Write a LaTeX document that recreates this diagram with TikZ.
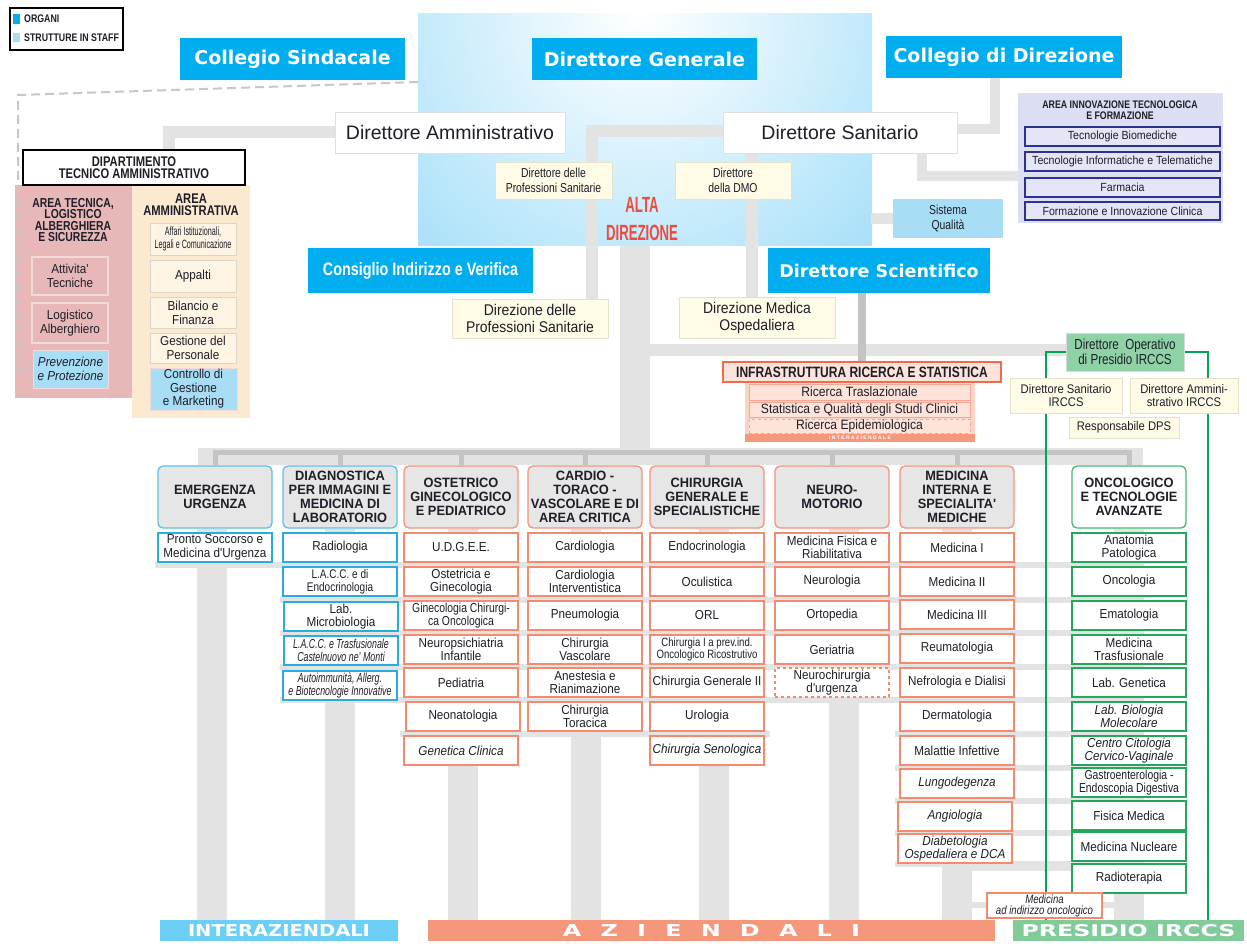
\documentclass[tikz,border=0pt]{standalone}
\usepackage{fontspec}
\usepackage{graphicx}
\setmainfont{Liberation Sans}
\newfontfamily\dv{DejaVu Sans}
\newfontfamily\cne{Liberation Sans}[FakeStretch=0.95]
\newfontfamily\cna{Liberation Sans}[FakeStretch=0.9]
\newfontfamily\cnb{Liberation Sans}[FakeStretch=0.8]
\newfontfamily\cnc{Liberation Sans}[FakeStretch=0.68]
\newfontfamily\cnd{Liberation Sans}[FakeStretch=0.6]
\definecolor{organ}{HTML}{00AEEF}
\definecolor{staff}{HTML}{A7DEF6}
\definecolor{cream}{HTML}{FFFBE6}
\definecolor{creamline}{HTML}{E6E2C8}
\definecolor{conn}{HTML}{E3E3E3}
\definecolor{connd}{HTML}{C4C4C4}
\definecolor{hdr}{HTML}{E6E6E6}
\definecolor{hbl}{HTML}{5BC0EB}
\definecolor{hsal}{HTML}{F4937A}
\definecolor{hgrn}{HTML}{45B86E}
\definecolor{ibl}{HTML}{2AACE2}
\definecolor{isal}{HTML}{F58A6E}
\definecolor{igrn}{HTML}{22A85A}
\definecolor{txt}{HTML}{1E1E28}
\definecolor{pinkp}{HTML}{E8B8B9}
\definecolor{pinkl}{HTML}{F3DADA}
\definecolor{creamp}{HTML}{FCEAD0}
\definecolor{creami}{HTML}{FEF4E4}
\definecolor{creaml}{HTML}{DDD5C8}
\definecolor{lav}{HTML}{DCDFF3}
\definecolor{lavi}{HTML}{E4E6F7}
\definecolor{navy}{HTML}{2E3192}
\definecolor{altared}{HTML}{EE4B3E}
\definecolor{opgreen}{HTML}{8FD2A6}
\definecolor{barblue}{HTML}{6DCFF6}
\definecolor{barsal}{HTML}{F5977B}
\definecolor{bargrn}{HTML}{80CB99}
\definecolor{infr}{HTML}{EE6B4F}
\definecolor{infrf}{HTML}{FDE3D9}
\definecolor{infrp}{HTML}{FBD3C4}
\definecolor{gradb}{HTML}{5FC6F4}
\definecolor{ggreen}{HTML}{00A651}
\pgfdeclarelayer{bg}
\pgfdeclarelayer{conn}
\pgfsetlayers{bg,conn,main}
\newcommand\bx[7]{\node[#1,minimum width={(#5)-(#3)},minimum height={(#6)-(#4)}] (#2) at ({((#3)+(#5))/2},{((#4)+(#6))/2}) {#7};}
\newcommand\ci[5]{\bx{#1}{#2}{#3}{#4}{#3+114}{#4+29}{#5}}
\tikzset{
 b/.style={inner sep=0pt, align=center, text=txt},
 organ/.style={b, fill=organ, text=white, font=\dv\bfseries\fontsize{19}{22}\selectfont},
 organn/.style={b, fill=organ, text=white, font=\cnb\bfseries\fontsize{18}{20}\selectfont},
 dirbox/.style={b, fill=white, draw=black!12, line width=0.8, font=\fontsize{19.5}{21}\selectfont},
 creambox/.style={b, fill=cream, draw=creamline, line width=0.8},
 hd/.style={b, rounded corners=5pt, fill=hdr, line width=1.3, font=\cne\bfseries\fontsize{13.5}{14}\selectfont},
 hdb/.style={hd, draw=hbl}, hds/.style={hd, draw=hsal}, hdg/.style={hd, draw=hgrn, fill=white},
 it/.style={b, fill=white, line width=1.2, font=\cna\fontsize{13}{13.5}\selectfont},
 itl/.style={font=\cna\itshape\fontsize{13}{13.5}\selectfont},
 itb/.style={it, draw=ibl}, its/.style={it, draw=isal}, itg/.style={it, draw=igrn},
 innit/.style={b, fill=lavi, draw=navy, line width=1.2, font=\cna\fontsize{11.8}{12}\selectfont},
 pinkit/.style={b, fill=pinkp, draw=pinkl, line width=1.2, font=\cna\fontsize{13}{14}\selectfont},
 creamit/.style={b, fill=creami, draw=creaml, line width=1, font=\cna\fontsize{13}{14}\selectfont},
 staffit/.style={b, fill=staff, draw=pinkl, line width=1, font=\cna\fontsize{13}{13.5}\selectfont},
 infit/.style={b, fill=infrf, draw=infr!60, line width=1, font=\cna\fontsize{13.5}{13.5}\selectfont},
 ttl/.style={b, font=\cnb\bfseries\fontsize{13}{11.5}\selectfont},
 cline/.style={draw=conn, line width=12},
 band/.style={draw=conn, line width=6},
 dline/.style={draw=connd, line width=5},
 gline/.style={draw=ggreen, line width=2.6},
 dashline/.style={draw=black!22, line width=2, dash pattern=on 9pt off 5pt},
 barbox/.style={b, text=white},
}
\begin{document}
\begin{tikzpicture}[x=1pt,y=-1pt]
\useasboundingbox (0,0) rectangle (1247,944);
\begin{pgfonlayer}{bg}
\fill[white] (0,0) rectangle (1247,944);
\begin{scope}
\clip (418,14) rectangle (872,245);
\fill[gradb] (418,14) rectangle (872,245);
\shade[inner color=white, outer color=gradb] (640,15) circle (600);
\end{scope}
\bx{fill=pinkp}{pan1}{15}{185}{132}{398}{}
\bx{fill=creamp}{pan2}{132}{185}{250}{418}{}
\bx{fill=lav}{inn}{1018}{93}{1223}{223}{}
\bx{fill=infrp}{infp}{745}{382}{975}{442}{}
\end{pgfonlayer}

% legend
\bx{draw=black, line width=1.6, fill=white}{legend}{10}{8}{123}{50}{}
\bx{fill=organ}{lgo}{13}{14}{20}{24}{}
\bx{fill=staff}{lgs}{13}{33}{20}{42}{}
\node[b, anchor=west, font=\cnb\bfseries\fontsize{11}{11}\selectfont] (lgot) at (24,19) {ORGANI};
\node[b, anchor=west, font=\cnb\bfseries\fontsize{11}{11}\selectfont] (lgst) at (24,38) {STRUTTURE IN STAFF};

% organs
\bx{organ}{cs}{180}{38}{405}{80}{Collegio Sindacale}
\bx{organ}{dg}{532}{38}{757}{80}{Direttore Generale}
\bx{organ}{cdd}{886}{36}{1122}{78}{Collegio di Direzione}
\bx{organn}{civ}{308}{248}{533}{293}{Consiglio Indirizzo e Verifica}
\bx{organ, font=\dv\bfseries\fontsize{17.5}{20}\selectfont}{dsci}{768}{248}{990}{293}{Direttore Scientifico}

\bx{dirbox}{damm}{335}{112}{565}{153}{Direttore Amministrativo}
\bx{dirbox}{dsan}{723}{112}{957}{153}{Direttore Sanitario}

\bx{creambox, font=\cnb\fontsize{13}{14.5}\selectfont}{dps}{495}{162}{612}{199}{Direttore delle\\Professioni Sanitarie}
\bx{creambox, font=\cnb\fontsize{13}{14.5}\selectfont}{ddmo}{675}{162}{791}{199}{Direttore\\della DMO}
\bx{creambox, font=\cna\fontsize{15.5}{17}\selectfont}{dirps}{452}{299}{608}{338}{Direzione delle\\Professioni Sanitarie}
\bx{creambox, font=\cna\fontsize{15.5}{17}\selectfont}{dmo}{679}{297}{835}{338}{Direzione Medica\\Ospedaliera}
\node[b, font=\cnd\bfseries\fontsize{22}{28}\selectfont, text=altared] (alta) at (642,219) {ALTA\\DIREZIONE};
\bx{b, fill=staff, font=\cnb\fontsize{13}{15}\selectfont}{sq}{893}{199}{1003}{238}{Sistema\\Qualità}

% innovazione
\node[b, font=\cnb\bfseries\fontsize{11}{10.5}\selectfont] (innt) at (1120,110) {AREA INNOVAZIONE TECNOLOGICA\\E FORMAZIONE};
\bx{innit}{tb}{1025}{127}{1220}{146}{Tecnologie Biomediche}
\bx{innit}{ti}{1025}{152}{1220}{171}{Tecnologie Informatiche e Telematiche}
\bx{innit}{fa}{1025}{178}{1220}{197}{Farmacia}
\bx{innit}{fi}{1025}{202}{1220}{220}{Formazione e Innovazione Clinica}

% dipartimento
\bx{b, draw=black, line width=1.4, fill=white, font=\cnb\bfseries\fontsize{14}{12}\selectfont}{dip}{23}{150}{245}{185}{DIPARTIMENTO\\TECNICO AMMINISTRATIVO}
\node[ttl] (tect) at (73,220) {AREA TECNICA,\\LOGISTICO\\ALBERGHIERA\\E SICUREZZA};
\node[ttl, font=\cnb\bfseries\fontsize{14}{12.5}\selectfont] (ammt) at (191,205) {AREA\\AMMINISTRATIVA};
\bx{pinkit}{atec}{32}{257}{108}{295}{Attivita'\\Tecniche}
\bx{pinkit}{lalb}{32}{303}{108}{343}{Logistico\\Alberghiero}
\bx{staffit, font=\cna\itshape\fontsize{13}{14}\selectfont}{prev}{33}{350}{108}{388}{Prevenzione\\e Protezione}
\bx{creamit, font=\cnd\fontsize{12}{13}\selectfont}{aff}{150}{223}{236}{255}{Affari Istituzionali,\\Legali e Comunicazione}
\bx{creamit}{app}{150}{260}{236}{292}{Appalti}
\bx{creamit}{bil}{150}{297}{236}{328}{Bilancio e\\Finanza}
\bx{creamit}{gest}{150}{333}{236}{363}{Gestione del\\Personale}
\bx{staffit}{ctrl}{150}{368}{237}{410}{Controllo di\\Gestione\\e Marketing}

% infrastruttura
\bx{b, fill=infrf, draw=infr, line width=1.5, font=\cnb\bfseries\fontsize{15}{15}\selectfont}{infr}{723}{362}{1001}{382}{INFRASTRUTTURA RICERCA E STATISTICA}
\bx{infit}{rtr}{749}{384}{970}{400}{Ricerca Traslazionale}
\bx{infit}{stq}{749}{402}{970}{417}{Statistica e Qualità degli Studi Clinici}
\bx{infit, dashed}{rep}{749}{419}{970}{433}{Ricerca Epidemiologica}
\bx{b, fill=barsal, text=white, font=\bfseries\fontsize{5}{5}\selectfont}{infz}{745}{434}{975}{442}{I N T E R A Z I E N D A L E}

% presidio
\bx{b, fill=opgreen, draw=black!15, line width=0.8, font=\cnb\fontsize{14.5}{15.5}\selectfont}{dop}{1066}{333}{1184}{371}{Direttore\ \ Operativo\\di Presidio IRCCS}
\bx{creambox, font=\cna\fontsize{12.5}{13.5}\selectfont}{dsi}{1010}{378}{1122}{413}{Direttore Sanitario\\IRCCS}
\bx{creambox, font=\cna\fontsize{12.5}{13.5}\selectfont}{dai}{1130}{378}{1238}{413}{Direttore Ammini-\\strativo IRCCS}
\bx{creambox, font=\cna\fontsize{12.5}{13.5}\selectfont}{rdps}{1069}{417}{1179}{438}{Responsabile DPS}

% headers
\bx{hdb}{h1}{158}{466}{272}{528}{EMERGENZA\\URGENZA}
\bx{hdb}{h2}{283}{466}{397}{528}{DIAGNOSTICA\\PER IMMAGINI E\\MEDICINA DI\\LABORATORIO}
\bx{hds}{h3}{404}{466}{518}{528}{OSTETRICO\\GINECOLOGICO\\E PEDIATRICO}
\bx{hds}{h4}{528}{466}{642}{528}{CARDIO -\\TORACO -\\VASCOLARE E DI\\AREA CRITICA}
\bx{hds}{h5}{650}{466}{764}{528}{CHIRURGIA\\GENERALE E\\SPECIALISTICHE}
\bx{hds}{h6}{775}{466}{889}{528}{NEURO-\\MOTORIO}
\bx{hds}{h7}{900}{466}{1014}{528}{MEDICINA\\INTERNA E\\SPECIALITA'\\MEDICHE}
\bx{hdg}{h8}{1072}{466}{1186}{528}{ONCOLOGICO\\E TECNOLOGIE\\AVANZATE}

% column 1
\ci{itb}{a1}{158}{533}{Pronto Soccorso e\\Medicina d'Urgenza}
% column 2
\ci{itb}{b1}{283}{533}{Radiologia}
\ci{itb, font=\cnb\fontsize{12.5}{13}\selectfont}{b2}{283}{567}{L.A.C.C. e di\\Endocrinologia}
\ci{itb}{b3}{284}{602}{Lab.\\Microbiologia}
\ci{itb, font=\cnc\itshape\fontsize{13}{13}\selectfont}{b4}{284}{636}{L.A.C.C. e Trasfusionale\\Castelnuovo ne’ Monti}
\ci{itb, font=\cnc\itshape\fontsize{13}{12.5}\selectfont}{b5}{283}{671}{Autoimmunità, Allerg.\\e Biotecnologie Innovative}
% column 3
\ci{its}{c1}{404}{533}{U.D.G.E.E.}
\ci{its}{c2}{404}{567}{Ostetricia e\\Ginecologia}
\ci{its, font=\cnb\fontsize{13}{13.5}\selectfont}{c3}{404}{601}{Ginecologia Chirurgi-\\ca Oncologica}
\ci{its}{c4}{404}{635}{Neuropsichiatria\\Infantile}
\ci{its}{c5}{404}{668}{Pediatria}
\ci{its}{c6}{406}{702}{Neonatologia}
\ci{its, itl}{c7}{404}{736}{Genetica Clinica}
% column 4
\ci{its}{d1}{528}{533}{Cardiologia}
\ci{its}{d2}{528}{567}{Cardiologia\\Interventistica}
\ci{its}{d3}{528}{601}{Pneumologia}
\ci{its}{d4}{528}{635}{Chirurgia\\Vascolare}
\ci{its}{d5}{528}{668}{Anestesia e\\Rianimazione}
\ci{its}{d6}{528}{702}{Chirurgia\\Toracica}
% column 5
\ci{its}{e1}{650}{533}{Endocrinologia}
\ci{its}{e2}{650}{567}{Oculistica}
\ci{its}{e3}{650}{601}{ORL}
\ci{its, font=\cnb\fontsize{12}{12.5}\selectfont}{e4}{650}{635}{Chirurgia I a prev.ind.\\Oncologico Ricostrutivo}
\ci{its}{e5}{650}{668}{Chirurgia Generale II}
\ci{its}{e6}{650}{702}{Urologia}
\ci{its, itl}{e7}{650}{736}{Chirurgia Senologica}
% column 6
\ci{its}{f1}{775}{533}{Medicina Fisica e\\Riabilitativa}
\ci{its}{f2}{775}{567}{Neurologia}
\ci{its}{f3}{775}{601}{Ortopedia}
\ci{its}{f4}{775}{635}{Geriatria}
\ci{its, dashed, line width=1.6}{f5}{775}{668}{Neurochirurgia\\d'urgenza}
% column 7
\ci{its}{g1}{900}{533}{Medicina I}
\ci{its}{g2}{900}{567}{Medicina II}
\ci{its}{g3}{900}{600}{Medicina III}
\ci{its}{g4}{900}{634}{Reumatologia}
\ci{its}{g5}{900}{668}{Nefrologia e Dialisi}
\ci{its}{g6}{900}{702}{Dermatologia}
\ci{its}{g7}{900}{736}{Malattie Infettive}
\ci{its, itl}{g8}{900}{769}{Lungodegenza}
\ci{its, itl}{g9}{898}{802}{Angiologia}
\ci{its, itl}{g10}{898}{834}{Diabetologia\\Ospedaliera e DCA}
% column 8
\ci{itg}{k1}{1072}{533}{Anatomia\\Patologica}
\ci{itg}{k2}{1072}{567}{Oncologia}
\ci{itg}{k3}{1072}{601}{Ematologia}
\ci{itg}{k4}{1072}{635}{Medicina\\Trasfusionale}
\ci{itg}{k5}{1072}{668}{Lab. Genetica}
\ci{itg, itl}{k6}{1072}{702}{Lab. Biologia\\Molecolare}
\ci{itg, itl}{k7}{1072}{736}{Centro Citologia\\Cervico-Vaginale}
\ci{itg, font=\cnb\fontsize{13}{13.5}\selectfont}{k8}{1072}{768}{Gastroenterologia -\\Endoscopia Digestiva}
\ci{itg}{k9}{1072}{801}{Fisica Medica}
\ci{itg}{k10}{1072}{832}{Medicina Nucleare}
\ci{itg}{k11}{1072}{864}{Radioterapia}
\bx{its, font=\cnb\itshape\fontsize{12}{11}\selectfont}{mio}{987}{893}{1102}{918}{Medicina\\ad indirizzo oncologico}

% bottom bars
\bx{barbox, fill=barblue}{bint}{160}{920}{398}{941}{\resizebox{182pt}{12pt}{\dv\bfseries INTERAZIENDALI}}
\bx{barbox, fill=barsal}{bazi}{428}{920}{995}{941}{\resizebox{297pt}{12pt}{\dv\bfseries A\hspace{0.8em}Z\hspace{0.8em}I\hspace{0.8em}E\hspace{0.8em}N\hspace{0.8em}D\hspace{0.8em}A\hspace{0.8em}L\hspace{0.8em}I}}
\bx{barbox, fill=bargrn}{bpre}{1013}{920}{1244}{941}{\resizebox{214pt}{12pt}{\dv\bfseries PRESIDIO IRCCS}}

% connectors
\begin{pgfonlayer}{conn}
\coordinate (dsA) at (418,82);
\coordinate (dsB) at (18,95);
\coordinate (dsC) at (18,370);
\coordinate (dsD) at (31,370);
\draw[dashline] (dsA) -- (dsB) -- (dsC) -- (dsD);
\draw[cline] (damm.west) -| ([xshift=35pt]dip.north);
\draw[cline] ([yshift=1pt]dsan.west) -| ([xshift=62pt]dirps.north);
\draw[cline] ([xshift=-5pt]dmo.north |- dsan.south) -- ([xshift=-5pt]dmo.north);
\draw[cline, line width=10] ([yshift=3pt]dsan.east) -| ([xshift=-9pt]cdd.south);
\draw[cline, line width=10] ([xshift=82pt]dsan.south) |- ([yshift=-18pt]inn.west);
\draw[cline, line width=10] (sq.west) -- ++(-22,0);
\coordinate (trk) at (635,245);
\coordinate (trkm) at (635,350);
\coordinate (dist) at (635,456);
\draw[cline, line width=30] (trk) -- (dist);
\draw[cline] (trkm) -- (trkm -| dop.west);
\draw[dline, line width=8] (infr.north |- dsci.south) -- (infr.north);
\coordinate (bl) at (198,456);
\coordinate (br) at (1143,456);
\draw[cline, line width=17] (bl) -- (br);
\coordinate (dl) at (0,452);
\draw[dline] (h1.north) -- (h1.north |- dl) -- (h8.north |- dl) -- (h8.north);
\foreach \h in {h2,h3,h4,h5,h6,h7} \draw[dline] (\h.north |- dl) -- (\h.north);
\coordinate (bot) at (0,920);
\foreach \h/\s in {h1/-3,h2/0,h3/2,h4/1,h5/7,h6/12,h7/0,h8/0}
  \draw[cline, line width=30] ([xshift=\s pt]\h.south) -- ([xshift=\s pt]\h.south |- bot);
\foreach \y/\a/\b in {564.5/155/1143, 599.5/280/1143, 633/280/1143, 666.5/280/1143, 700/280/1143, 734/400/770, 734/895/1143, 767.5/895/1143, 800.5/895/1143, 832.5/895/1143, 864/895/1143, 868/943/1143, 905/943/1143}
  \draw[band] (\a,\y) -- (\b,\y);
\coordinate (gl) at (1046,920);
\coordinate (gr) at (1208,920);
\draw[gline] (dop.west) -| (gl);
\draw[gline] (dop.east) -| (gr);
\end{pgfonlayer}
\end{tikzpicture}
\end{document}
